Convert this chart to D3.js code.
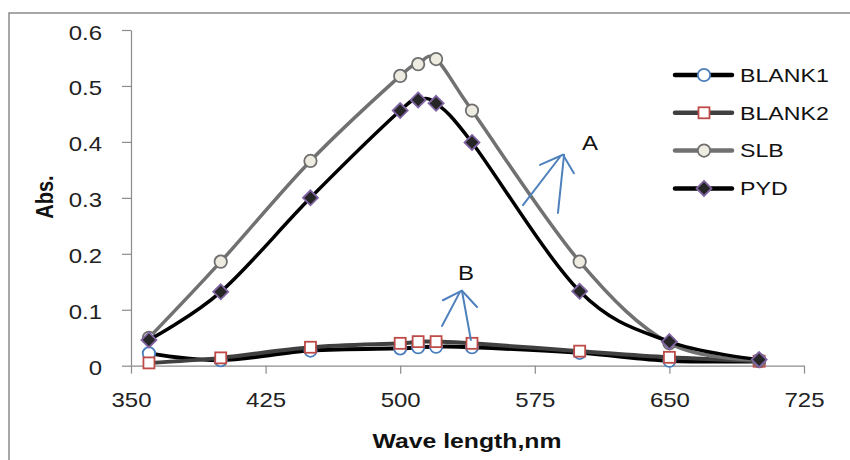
<!DOCTYPE html>
<html>
<head>
<meta charset="utf-8">
<script src="https://cdn.jsdelivr.net/npm/d3@7"></script>
<style>
  html, body { margin: 0; padding: 0; background: #fff; }
  svg { display: block; font-family: "Liberation Sans", Arial, sans-serif; }
</style>
</head>
<body>
<svg id="chart"></svg>
<script>
// Absorbance spectra (Abs. vs wavelength)
const wavelengths = [360, 400, 450, 500, 510, 520, 540, 600, 650, 700];
const blank1 = [0.022, 0.010, 0.027, 0.031, 0.033, 0.034, 0.033, 0.023, 0.009, 0.008];
const blank2 = [0.005, 0.014, 0.033, 0.040, 0.043, 0.043, 0.040, 0.026, 0.015, 0.008];
const slb    = [0.050, 0.186, 0.366, 0.518, 0.539, 0.548, 0.456, 0.186, 0.040, 0.010];
const pyd    = [0.046, 0.132, 0.300, 0.456, 0.475, 0.469, 0.399, 0.133, 0.043, 0.011];
const seriesNames = ["BLANK1", "BLANK2", "SLB", "PYD"];
const xTicks = [350, 425, 500, 575, 650, 725];
const yTicks = [0, 0.1, 0.2, 0.3, 0.4, 0.5, 0.6];

// Hand-drawn annotation arrows, in data units (wavelength, Abs.)
const arrowA = [
  [[568.4, 0.287], [589.0, 0.373]],
  [[587.9, 0.273], [591.3, 0.377]],
  [[590.7, 0.377], [577.9, 0.359]],
  [[590.7, 0.377], [596.8, 0.344]]
];
const arrowB = [
  [[523.3, 0.071], [533.3, 0.132]],
  [[539.4, 0.046], [534.4, 0.134]],
  [[534.4, 0.134], [523.8, 0.117]],
  [[534.4, 0.134], [542.8, 0.105]]
];
const labels = [{ t: "A", x: 605.7, y: 0.386 }, { t: "B", x: 536.7, y: 0.153 }];

const width = 850, height = 460;
const stretch = 1.2; // the picture's text is a little wide

const svg = d3.select("#chart").attr("width", width).attr("height", height);

// outer chart frame (runs off the right and bottom of the picture)
svg.append("rect")
  .attr("x", 9).attr("y", 13)
  .attr("width", 900).attr("height", 500)
  .attr("fill", "none").attr("stroke", "#8a8a8a").attr("stroke-width", 1.5);

const x = d3.scaleLinear().domain([350, 725]).range([131, 804]);
const y = d3.scaleLinear().domain([0, 0.6]).range([365.7, 30]);

// axes
const yAxis = svg.append("g")
  .attr("transform", `translate(${x(350)},0)`)
  .call(d3.axisLeft(y).tickValues(yTicks).tickSize(9).tickSizeOuter(0).tickPadding(20)
    .tickFormat(d => d === 0 ? "0" : d3.format(".1f")(d)));
yAxis.selectAll("text")
  .attr("x", -29 / stretch).attr("dy", "0.45em")
  .attr("transform", `scale(${stretch},1)`)
  .style("font-size", "20px").attr("fill", "#222");

const xAxis = svg.append("g")
  .attr("transform", `translate(0,${y(0)})`)
  .call(d3.axisBottom(x).tickValues(xTicks).tickSize(8).tickSizeOuter(0).tickPadding(19));
xAxis.selectAll("text")
  .attr("transform", `scale(${stretch},1)`)
  .attr("x", 0)
  .style("font-size", "20px").attr("fill", "#222");

svg.selectAll(".domain, .tick line").attr("stroke", "#8c8c8c").attr("stroke-width", 1.2);

// axis titles
svg.append("text")
  .attr("transform", `translate(467,448) scale(1.18,1)`)
  .attr("text-anchor", "middle")
  .style("font-size", "21px").style("font-weight", "bold").attr("fill", "#111")
  .text("Wave length,nm");

svg.append("text")
  .attr("transform", `translate(53,197) rotate(-90) scale(1,1.2)`)
  .attr("text-anchor", "middle")
  .style("font-size", "20px").style("font-weight", "bold").attr("fill", "#111")
  .text("Abs.");

// series styles
const styles = {
  BLANK1: { values: blank1, line: "#000000", lw: 4, shape: "circle", fill: "#ffffff", stroke: "#4a7ebb" },
  BLANK2: { values: blank2, line: "#404040", lw: 4, shape: "square", fill: "#ffffff", stroke: "#be4b48" },
  SLB:    { values: slb,    line: "#717171", lw: 3.5, shape: "circle", fill: "#eeece1", stroke: "#6f6f6f" },
  PYD:    { values: pyd,    line: "#000000", lw: 3.5, shape: "diamond", fill: "#262626", stroke: "#8064a2" }
};

const line = d3.line()
  .x(d => x(d[0])).y(d => y(d[1]))
  .curve(d3.curveCardinal.tension(0));

function marker(g, shape, st) {
  if (shape === "circle") {
    g.append("circle").attr("r", 6.2);
  } else if (shape === "square") {
    g.append("rect").attr("x", -5.5).attr("y", -5.5).attr("width", 11).attr("height", 11);
  } else {
    g.append("path").attr("d", "M0,-7.5L7.5,0L0,7.5L-7.5,0Z");
  }
  g.selectAll("*").attr("fill", st.fill).attr("stroke", st.stroke).attr("stroke-width", 1.8);
}

seriesNames.forEach(name => {
  const st = styles[name];
  const pts = wavelengths.map((w, i) => [w, st.values[i]]);
  svg.append("path")
    .datum(pts)
    .attr("d", line)
    .attr("fill", "none")
    .attr("stroke", st.line)
    .attr("stroke-width", st.lw)
    .attr("stroke-linejoin", "round");
  svg.append("g").selectAll("g")
    .data(pts)
    .enter().append("g")
    .attr("transform", d => `translate(${x(d[0])},${y(d[1])})`)
    .each(function () { marker(d3.select(this), st.shape, st); });
});

// annotations
[arrowA, arrowB].forEach(arrow => {
  svg.append("g").selectAll("line")
    .data(arrow)
    .enter().append("line")
    .attr("x1", d => x(d[0][0])).attr("y1", d => y(d[0][1]))
    .attr("x2", d => x(d[1][0])).attr("y2", d => y(d[1][1]))
    .attr("stroke", "#4f81bd").attr("stroke-width", 2).attr("stroke-linecap", "round");
});
svg.selectAll(".anno")
  .data(labels)
  .enter().append("text")
  .attr("class", "anno")
  .attr("transform", d => `translate(${x(d.x)},${y(d.y)}) scale(${stretch},1)`)
  .attr("text-anchor", "middle")
  .style("font-size", "20px").attr("fill", "#111")
  .text(d => d.t);

// legend
const legend = svg.append("g").attr("transform", "translate(675,75)");
seriesNames.forEach((name, i) => {
  const st = styles[name];
  const row = legend.append("g").attr("transform", `translate(0,${i * 37.8})`);
  row.append("line")
    .attr("x1", 0).attr("x2", 57).attr("y1", 0).attr("y2", 0)
    .attr("stroke", st.line).attr("stroke-width", 4.5).attr("stroke-linecap", "round");
  marker(row.append("g").attr("transform", "translate(29,0)"), st.shape, st);
  row.append("text")
    .attr("transform", `translate(65,6.8) scale(1.22,1)`)
    .style("font-size", "19px").attr("fill", "#111")
    .text(name);
});
</script>
</body>
</html>
